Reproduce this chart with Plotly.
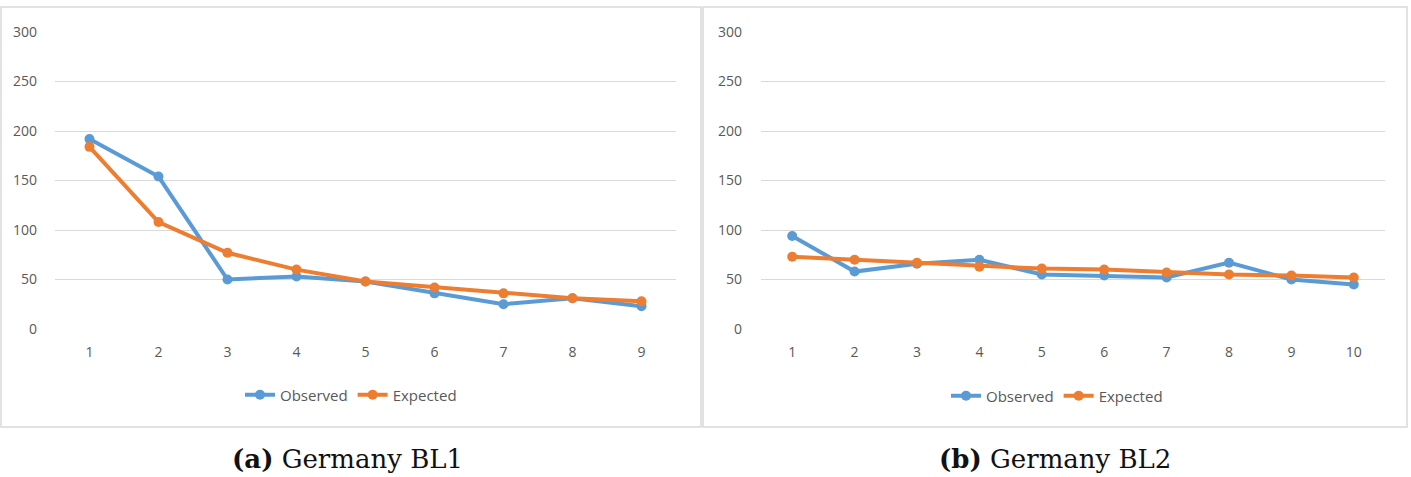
import plotly.graph_objects as go

W, H = 1411, 477

cats_a = [1, 2, 3, 4, 5, 6, 7, 8, 9]
obs_a = [192, 154, 50, 53, 48, 36, 25, 31, 23]
exp_a = [184, 108, 77, 60, 48, 42, 36, 31, 28]

cats_b = [1, 2, 3, 4, 5, 6, 7, 8, 9, 10]
obs_b = [94, 58, 66, 70, 55, 54, 52, 67, 50, 45]
exp_b = [73, 70, 67, 63, 61, 60, 57, 55, 54, 52]

y_ticks = [0, 50, 100, 150, 200, 250, 300]
captions = ["<b>(a)</b> Germany BL1", "<b>(b)</b> Germany BL2"]

BLUE = "#5B9BD5"
ORANGE = "#ED7D31"
GRID = "#D9D9D9"
TXT = "#595959"
FONT = "Open Sans"


def px(x):
    return x / W


def py(y):
    return 1 - y / H


fig = go.Figure()

panels = [
    (cats_a, obs_a, exp_a, "x", "y", "legend"),
    (cats_b, obs_b, exp_b, "x2", "y2", "legend2"),
]

for cats, obs, exp, xa, ya, lg in panels:
    for name, vals, col in (("Observed", obs, BLUE), ("Expected", exp, ORANGE)):
        fig.add_trace(go.Scatter(
            x=cats, y=vals, name=name, mode="lines+markers",
            line=dict(color=col, width=4),
            marker=dict(color=col, size=10),
            xaxis=xa, yaxis=ya, legend=lg,
        ))

ydom = [py(329), py(32)]
axis_common = dict(showline=False, zeroline=False, ticks="", automargin=False,
                   tickfont=dict(family=FONT, size=14, color=TXT))

legend_common = dict(orientation="h", xanchor="center", yanchor="middle",
                     xref="container", yref="container",
                     font=dict(family=FONT, size=15, color=TXT),
                     bgcolor="rgba(0,0,0,0)", itemwidth=30, tracegroupgap=0)

fig.update_layout(
    width=W, height=H,
    margin=dict(l=0, r=0, t=0, b=0, autoexpand=False),
    paper_bgcolor="white", plot_bgcolor="white",
    font=dict(family=FONT, color=TXT),
    xaxis=dict(domain=[px(55), px(676)], range=[0.5, len(cats_a) + 0.5],
               tickvals=cats_a, showgrid=False, anchor="y",
               ticklabelstandoff=13, **axis_common),
    yaxis=dict(domain=ydom, range=[0, 300], tickvals=y_ticks,
               showgrid=True, gridcolor=GRID, gridwidth=1.3, anchor="x",
               ticklabelstandoff=17, **axis_common),
    xaxis2=dict(domain=[px(761), px(1385)], range=[0.5, len(cats_b) + 0.5],
                tickvals=cats_b, showgrid=False, anchor="y2",
                ticklabelstandoff=13, **axis_common),
    yaxis2=dict(domain=ydom, range=[0, 300], tickvals=y_ticks,
                showgrid=True, gridcolor=GRID, gridwidth=1.3, anchor="x2",
                ticklabelstandoff=18, **axis_common),
    legend=dict(x=px(351), y=py(395), **legend_common),
    legend2=dict(x=px(1057), y=py(396), **legend_common),
    showlegend=True,
)

# panel frames
for x0, x1 in ((1, 701), (703, 1407)):
    fig.add_shape(type="rect", xref="paper", yref="paper",
                  x0=px(x0), x1=px(x1), y0=py(427), y1=py(7),
                  line=dict(color=GRID, width=1.5), fillcolor="rgba(0,0,0,0)",
                  layer="below")

# captions
for cx, text in ((347, captions[0]), (1055, captions[1])):
    fig.add_annotation(xref="paper", yref="paper", x=px(cx), y=py(459),
                       xanchor="center", yanchor="middle", showarrow=False,
                       text=text,
                       font=dict(family="DejaVu Serif", size=26, color="#111111"))

fig.write_html("out.html")
